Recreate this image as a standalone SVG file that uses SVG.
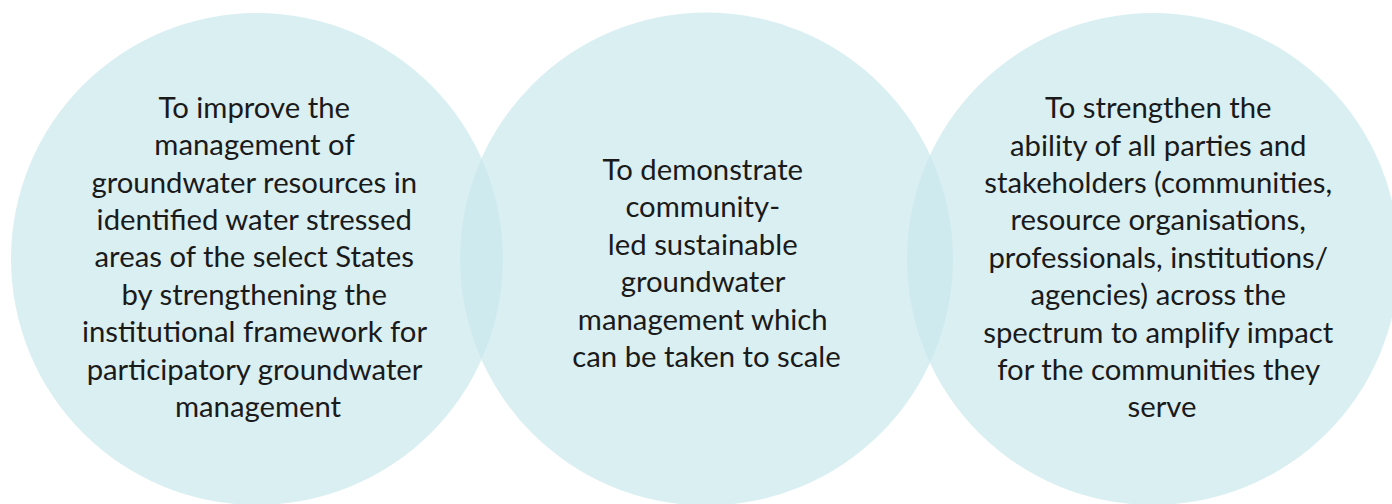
<svg xmlns="http://www.w3.org/2000/svg" width="1392" height="504" viewBox="0 0 1392 504">
<style>
.c{fill:#cae8ec;fill-opacity:0.7}
.t{font-family:Lato,"Liberation Sans",sans-serif;font-size:29.3px;fill:#1a1a1a;text-anchor:middle}
</style>
<rect width="1392" height="504" fill="#ffffff"/>
<g id="node-left">
<circle class="c" cx="257" cy="259" r="246"/>
<text class="t">
<tspan x="258" y="118">To improve the</tspan>
<tspan x="258" y="155">management of</tspan>
<tspan x="258" y="193">groundwater resources in</tspan>
<tspan x="258" y="230">identified water stressed</tspan>
<tspan x="258" y="267">areas of the select States</tspan>
<tspan x="258" y="305">by strengthening the</tspan>
<tspan x="258" y="342">institutional framework for</tspan>
<tspan x="258" y="380">participatory groundwater</tspan>
<tspan x="258" y="417">management</tspan>
</text>
</g>
<g id="node-middle">
<circle class="c" cx="706.5" cy="259" r="246.5"/>
<text class="t">
<tspan x="706.5" y="180">To demonstrate</tspan>
<tspan x="706.5" y="217">community-</tspan>
<tspan x="706.5" y="255">led sustainable</tspan>
<tspan x="706.5" y="292">groundwater</tspan>
<tspan x="706.5" y="330">management which</tspan>
<tspan x="706.5" y="367">can be taken to scale</tspan>
</text>
</g>
<g id="node-right">
<circle class="c" cx="1153" cy="259" r="246"/>
<text class="t">
<tspan x="1162" y="118">To strengthen the</tspan>
<tspan x="1162" y="156">ability of all parties and</tspan>
<tspan x="1162" y="193">stakeholders (communities,</tspan>
<tspan x="1162" y="230">resource organisations,</tspan>
<tspan x="1162" y="268">professionals, institutions/</tspan>
<tspan x="1162" y="305">agencies) across the</tspan>
<tspan x="1162" y="343">spectrum to amplify impact</tspan>
<tspan x="1162" y="380">for the communities they</tspan>
<tspan x="1162" y="417">serve</tspan>
</text>
</g>
<g id="connectors"></g>
</svg>
